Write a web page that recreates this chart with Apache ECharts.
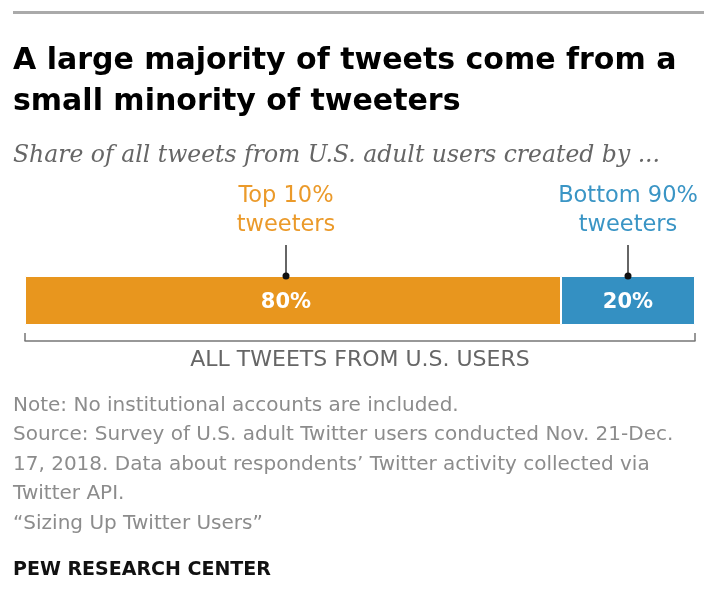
<!DOCTYPE html>
<html>
<head>
<meta charset="utf-8">
<script src="https://cdn.jsdelivr.net/npm/echarts@6/dist/echarts.min.js"></script>
<style>
  html, body { margin: 0; padding: 0; background: #fff; }
  #chart { width: 704px; height: 610px; }
</style>
</head>
<body>
<div id="chart"></div>
<script>
// data
const categories = ['ALL TWEETS FROM U.S. USERS']
const groupNames = ['Top 10%\ntweeters', 'Bottom 90%\ntweeters']
const shares = [80, 20]
const groupColors = ['#E8961E', '#3490C2']
const textColors = ['#EB9A2A', '#3A95C5']
const noteLines = [
  'Note: No institutional accounts are included.',
  'Source: Survey of U.S. adult Twitter users conducted Nov. 21-Dec.',
  '17, 2018. Data about respondents\u2019 Twitter activity collected via',
  'Twitter API.',
  '\u201cSizing Up Twitter Users\u201d'
]

// label nudge in px (the reference puts the orange labels a bit left of centre)
const labelShift = [-7, 0]

const sans = 'DejaVu Sans'

// callouts sit at the middle of each stacked segment
let acc = 0
const calloutData = shares.map((v, i) => {
  const mid = acc + v / 2
  acc += v
  return [mid, 0, i]
})

const chart = echarts.init(document.getElementById('chart'))

const barSeries = shares.map((v, i) => ({
  type: 'bar',
  name: groupNames[i],
  stack: 'total',
  barWidth: '100%',
  data: [v],
  itemStyle: { color: groupColors[i], borderColor: '#fff', borderWidth: 1 },
  label: {
    show: true,
    position: 'inside',
    formatter: '{c}%',
    color: '#fff',
    fontFamily: sans,
    fontWeight: 'bold',
    fontSize: 21,
    offset: [labelShift[i], 2],
  },
  silent: true,
}))

chart.setOption({
  animation: false,
  title: {
    text: 'A large majority of tweets come from a\nsmall minority of tweeters',
    subtext: 'Share of all tweets from U.S. adult users created by ...',
    left: 13,
    top: 41,
    padding: 0,
    itemGap: 19,
    textStyle: {
      fontFamily: sans,
      fontWeight: 'bold',
      fontSize: 30,
      lineHeight: 41,
      color: '#000',
    },
    subtextStyle: {
      fontFamily: 'DejaVu Serif',
      fontStyle: 'italic',
      fontSize: 23.5,
      lineHeight: 28,
      color: '#666',
    },
  },
  grid: { left: 25, right: 9, top: 276, bottom: 285 },
  xAxis: {
    type: 'value',
    min: 0,
    max: 100,
    interval: 100,
    offset: 16,
    axisLine: { show: true, lineStyle: { color: '#777', width: 1.5 } },
    axisTick: { show: true, inside: true, length: 8, lineStyle: { color: '#777', width: 1.5 } },
    axisLabel: { show: false },
    splitLine: { show: false },
    name: categories[0],
    nameLocation: 'middle',
    nameGap: 19,
    nameTextStyle: {
      fontFamily: sans,
      fontSize: 22,
      color: '#666',
      verticalAlign: 'middle',
    },
  },
  yAxis: {
    type: 'category',
    data: categories,
    show: false,
  },
  series: [
    ...barSeries,
    {
      // leader line, dot and label above each segment
      type: 'custom',
      silent: true,
      z: 10,
      clip: false,
      data: calloutData,
      encode: { x: 0, y: 1 },
      renderItem: (params, api) => {
        const idx = api.value(2)
        const p = api.coord([api.value(0), api.value(1)])
        const band = api.size([0, 1])[1]
        const x = p[0] + labelShift[idx]
        const top = p[1] - band / 2
        return {
          type: 'group',
          children: [
            {
              type: 'line',
              shape: { x1: x, y1: top - 31, x2: x, y2: top },
              style: { stroke: '#333', lineWidth: 1.5 },
            },
            {
              type: 'circle',
              shape: { cx: x, cy: top, r: 3.5 },
              style: { fill: '#111' },
            },
            {
              type: 'text',
              x: x,
              y: top - 36,
              style: {
                text: groupNames[idx],
                fill: textColors[idx],
                fontFamily: sans,
                fontSize: 22.5,
                lineHeight: 29,
                align: 'center',
                verticalAlign: 'bottom',
              },
            },
          ],
        }
      },
    },
  ],
  graphic: [
    {
      type: 'line',
      shape: { x1: 13, y1: 12.5, x2: 704, y2: 12.5 },
      style: { stroke: '#aaa', lineWidth: 3 },
    },
    {
      type: 'text',
      left: 13,
      top: 391,
      style: {
        text: noteLines.join('\n'),
        fill: '#8c8c8c',
        fontFamily: sans,
        fontSize: 20,
        lineHeight: 29.5,
      },
    },
    {
      type: 'text',
      left: 13,
      top: 560,
      style: {
        text: 'PEW RESEARCH CENTER',
        fill: '#111',
        fontFamily: sans,
        fontWeight: 'bold',
        fontSize: 19,
        lineHeight: 20,
      },
    },
  ],
})
</script>
</body>
</html>
